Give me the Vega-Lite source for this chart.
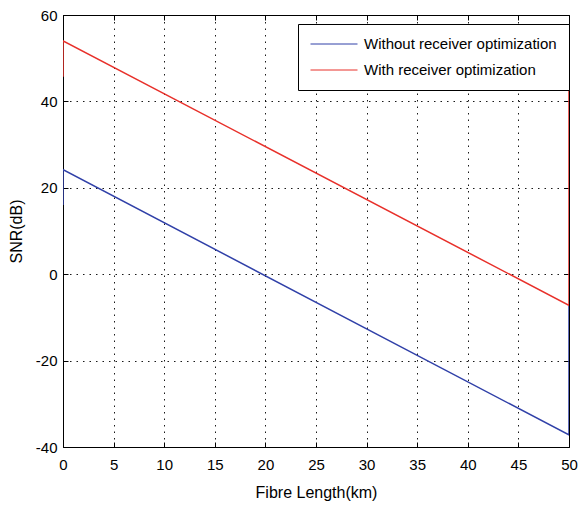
{
  "$schema": "https://vega.github.io/schema/vega-lite/v6.json",
  "width": 506,
  "height": 432,
  "autosize": {"type": "none"},
  "padding": {"left": 63, "top": 15, "right": 15, "bottom": 58},
  "background": "white",
  "config": {
    "font": "Liberation Sans",
    "view": {"stroke": "black", "strokeWidth": 1}
  },
  "data": {
    "values": [
      {"km": 0, "snr": 16, "series": "Without receiver optimization", "o": 1},
      {"km": 0, "snr": 24.2, "series": "Without receiver optimization", "o": 2},
      {"km": 50, "snr": -37.2, "series": "Without receiver optimization", "o": 3},
      {"km": 50, "snr": -7.2, "series": "Without receiver optimization", "o": 4},
      {"km": 0, "snr": 45.7, "series": "With receiver optimization", "o": 1},
      {"km": 0, "snr": 54, "series": "With receiver optimization", "o": 2},
      {"km": 50, "snr": -7.2, "series": "With receiver optimization", "o": 3},
      {"km": 50, "snr": 44, "series": "With receiver optimization", "o": 4}
    ]
  },
  "layer": [
    {
      "mark": {"type": "line", "strokeWidth": 1.5, "clip": true},
      "encoding": {
        "x": {
          "field": "km", "type": "quantitative",
          "scale": {"domain": [0, 50], "nice": false, "zero": false},
          "axis": {
            "title": "Fibre Length(km)", "values": [0,5,10,15,20,25,30,35,40,45,50],
            "labelExpr": "datum.value", "labelFontSize": 15, "labelColor": "black",
            "titleFontSize": 16, "titleFontWeight": "normal", "titleColor": "black", "titlePadding": 12,
            "domain": false, "tickSize": -5, "tickColor": "black", "labelPadding": 15,
            "grid": true, "gridColor": "black", "gridDash": [1.5, 5], "gridOpacity": 0.9,
            "labelFlush": false
          }
        },
        "y": {
          "field": "snr", "type": "quantitative",
          "scale": {"domain": [-40, 60], "nice": false, "zero": false},
          "axis": {
            "title": "SNR(dB)", "values": [-40,-20,0,20,40,60],
            "labelExpr": "datum.value", "labelFontSize": 15, "labelColor": "black",
            "titleFontSize": 16, "titleFontWeight": "normal", "titleColor": "black", "titlePadding": 11,
            "domain": false, "tickSize": -5, "tickColor": "black", "labelPadding": 11,
            "grid": true, "gridColor": "black", "gridDash": [1.5, 5], "gridOpacity": 0.9,
            "labelFlush": false
          }
        },
        "order": {"field": "o"},
        "color": {
          "field": "series", "type": "nominal",
          "scale": {"domain": ["Without receiver optimization", "With receiver optimization"], "range": ["#3040a8", "#e8302a"]},
          "legend": {
            "title": null, "orient": "none", "legendX": 235, "legendY": 9,
            "symbolType": "stroke", "symbolSize": 2209, "symbolStrokeWidth": 1,
            "clipHeight": 16,
            "labelFontSize": 15, "labelColor": "black", "labelOffset": 6,
            "fillColor": "white", "strokeColor": "black", "padding": 12, "rowPadding": 10,
            "labelLimit": 400
          }
        }
      }
    },
    {
      "mark": {"type": "line", "opacity": 0},
      "encoding": {
        "x": {
          "field": "km", "type": "quantitative",
          "axis": {"orient": "top", "title": null, "labels": false, "domain": false, "grid": false, "tickSize": -5, "tickColor": "black", "values": [0,5,10,15,20,25,30,35,40,45,50]}
        },
        "y": {
          "field": "snr", "type": "quantitative",
          "axis": {"orient": "right", "title": null, "labels": false, "domain": false, "grid": false, "tickSize": -5, "tickColor": "black", "values": [-40,-20,0,20,40,60]}
        },
        "detail": {"field": "series"}
      }
    }
  ],
  "resolve": {"axis": {"x": "independent", "y": "independent"}}
}
